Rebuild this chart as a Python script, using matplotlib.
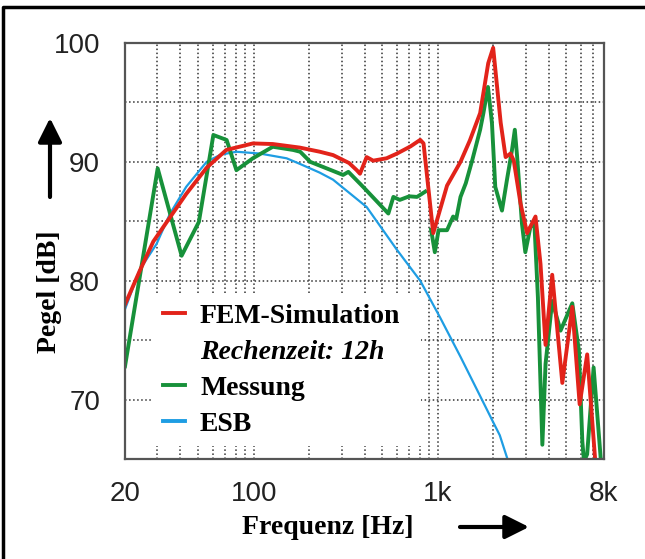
import numpy as np
import matplotlib
matplotlib.use("Agg")
import matplotlib.pyplot as plt
from matplotlib.lines import Line2D
from matplotlib.ticker import FixedLocator, NullFormatter

# FEM-Simulation (red)
fem_f = [20, 24, 28.5, 35, 43, 55.5, 71, 99, 127, 178, 229, 270, 330, 363, 378,
         411, 446, 527, 601, 711, 803, 837, 945, 1123, 1329, 1494, 1699, 1880,
         2000, 2197, 2337, 2485, 2588, 2816, 3057, 3396, 3616, 3851, 4185, 4750,
         5380, 5900, 6482, 7150, 7400]
fem_db = [78.0, 80.8, 83.3, 85.3, 87.3, 89.5, 91.0, 91.55, 91.5, 91.2, 90.85,
          90.57, 89.9, 89.3, 89.0, 90.4, 90.1, 90.3, 90.7, 91.3, 91.85, 91.55,
          84.0, 88.0, 90.0, 91.8, 94.1, 98.3, 99.6, 93.3, 90.4, 90.7, 90.1, 86.5,
          84.0, 85.4, 81.4, 74.6, 80.5, 71.4, 77.8, 69.6, 73.8, 65.1, 63.5]

# Messung (green), gap near 900 Hz
mess_f = [20, 30.1, 40.6, 50.4, 60.4, 71.3, 80.6, 99, 127, 164, 179, 203, 306,
          327, 393, 539, 574, 622, 700, 772, 856, 890, 920, 964, 1010, 1123,
          1212, 1260, 1329, 1420, 1540, 1699, 1770, 1874, 1970, 2053, 2233,
          2377, 2531, 2622, 2700, 2867, 2990, 3185, 3350, 3500, 3700, 3851,
          4185, 4645, 5380, 5846, 6100, 6230, 6480, 7025, 7700]
mess_db = [72.8, 89.45, 82.1, 84.95, 92.26, 91.84, 89.3, 90.3, 91.27, 91.0,
           90.85, 90.0, 88.9, 89.16, 87.9, 85.65, 87.05, 86.8, 87.1, 87.05,
           87.5, np.nan, 84.3, 82.4, 84.25, 84.25, 85.4, 85.2, 87.05, 88.2,
           90.15, 92.7, 94.1, 96.3, 93.25, 87.9, 85.9, 88.5, 91.0, 92.7, 90.4,
           84.8, 82.4, 84.5, 84.8, 78.6, 66.2, 73.0, 78.3, 75.8, 78.1, 74.1,
           66.5, 64.8, 65.4, 72.7, 64.8]

# ESB (blue)
esb_f = [20, 24, 29.7, 35, 43, 55.5, 66, 80.6, 108, 151, 180, 228, 270, 411,
         600, 803, 1030, 1329, 1699, 2000, 2172, 2450]
esb_db = [77.6, 80.9, 83.1, 85.6, 87.9, 90.0, 90.6, 90.85, 90.7, 90.3, 89.8,
          89.1, 88.5, 86.2, 82.6, 80.0, 76.9, 73.6, 70.3, 68.1, 67.0, 64.5]

x_ticks = [20, 100, 1000, 8000]
x_labels = ["20", "100", "1k", "8k"]
x_grid = [30, 40, 50, 60, 70, 80, 90, 200, 300, 400, 500, 600, 700, 800, 900,
          2000, 3000, 4000, 5000, 6000, 7000]
y_ticks = [70, 80, 90, 100]
y_grid = [75, 85, 95]

red = "#e2231a"
green = "#17913a"
blue = "#1e9de3"
serif = "Liberation Serif"
sans = "Liberation Sans"

fig = plt.figure(figsize=(6.45, 5.59), dpi=100)
ax = fig.add_axes([125 / 645, 100 / 559, 479 / 645, 416 / 559])

ax.plot(esb_f, esb_db, color=blue, lw=1.6)
ax.plot(mess_f, mess_db, color=green, lw=2.8)
ax.plot(fem_f, fem_db, color=red, lw=2.8)

ax.set_xscale("log")
ax.set_xlim(20, 8000)
ax.set_ylim(65, 100)
ax.xaxis.set_major_locator(FixedLocator(x_ticks))
ax.set_xticklabels(x_labels)
ax.xaxis.set_minor_locator(FixedLocator(x_grid))
ax.xaxis.set_minor_formatter(NullFormatter())
ax.yaxis.set_major_locator(FixedLocator(y_ticks))
ax.yaxis.set_minor_locator(FixedLocator(y_grid))
ax.grid(True, which="both", ls=":", lw=1.1, color="#333333")
ax.tick_params(which="both", length=0)
ax.tick_params(axis="x", pad=16)
ax.tick_params(axis="y", pad=18)
for lab in ax.get_xticklabels() + ax.get_yticklabels():
    lab.set_fontfamily(sans)
    lab.set_fontsize(20)
    lab.set_color("#222222")
for sp in ax.spines.values():
    sp.set_color("#555555")
    sp.set_linewidth(1.6)

handles = [Line2D([], [], color=red, lw=2.8),
           Line2D([], [], color="none"),
           Line2D([], [], color=green, lw=2.8),
           Line2D([], [], color=blue, lw=2.8)]
labels = ["FEM-Simulation", "Rechenzeit: 12h", "Messung", "ESB"]
leg = ax.legend(handles, labels, loc="upper left",
                bbox_to_anchor=(0.058, 0.398, 0.56, 0.0), mode="expand",
                borderaxespad=0, frameon=True, fancybox=False, framealpha=1,
                edgecolor="none", facecolor="white", handlelength=0.8,
                handletextpad=0.55, labelspacing=0.38, borderpad=0.35,
                prop={"family": serif, "weight": "bold", "size": 20})
leg.get_texts()[1].set_fontstyle("italic")

fig.text(50 / 645, 1 - 292 / 559, "Pegel [dB]", rotation=90, ha="center",
         va="center", fontfamily=serif, fontweight="bold", fontsize=20)
fig.text(328 / 645, 1 - 527 / 559, "Frequenz [Hz]", ha="center", va="center",
         fontfamily=serif, fontweight="bold", fontsize=20)

arrow = dict(arrowstyle="-|>,head_length=0.4,head_width=0.2", lw=3,
             color="black", mutation_scale=36, shrinkA=0, shrinkB=0)
fig.add_artist(matplotlib.patches.FancyArrowPatch(
    (50 / 645, 1 - 197 / 559), (50 / 645, 1 - 118 / 559),
    transform=fig.transFigure, **arrow))
fig.add_artist(matplotlib.patches.FancyArrowPatch(
    (460 / 645, 1 - 527 / 559), (529 / 645, 1 - 527 / 559),
    transform=fig.transFigure, **arrow))

# frame around the picture (top and left edges only)
fig.add_artist(Line2D([3 / 645, 3 / 645, 1], [0, 1 - 7 / 559, 1 - 7 / 559],
                      transform=fig.transFigure, color="black", lw=2.5))

fig.savefig("out.png", dpi=100)
